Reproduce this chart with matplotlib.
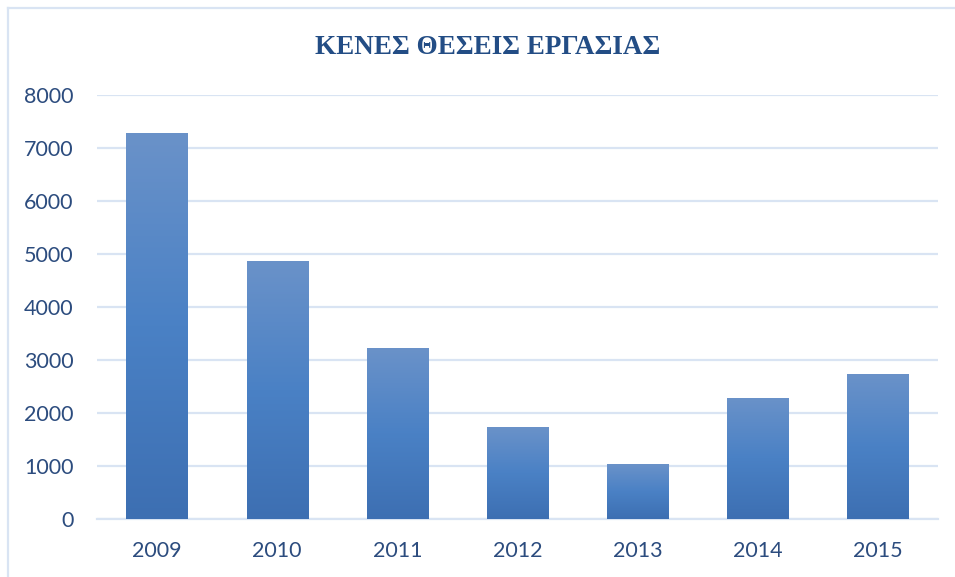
import matplotlib
matplotlib.use("Agg")
import matplotlib.pyplot as plt
import numpy as np
from matplotlib.colors import LinearSegmentedColormap
from matplotlib.lines import Line2D

years = ["2009", "2010", "2011", "2012", "2013", "2014", "2015"]
values = [7280, 4860, 3220, 1730, 1030, 2290, 2730]
yticks = [0, 1000, 2000, 3000, 4000, 5000, 6000, 7000, 8000]
title = "ΚΕΝΕΣ ΘΕΣΕΙΣ ΕΡΓΑΣΙΑΣ"

text_color = "#2c4c7e"
grid_color = "#d9e4f3"

fig = plt.figure(figsize=(9.55, 5.77), dpi=100)
ax = fig.add_axes([97/955, 1-519/577, (938-97)/955, (519-95)/577])

cmap = LinearSegmentedColormap.from_list("bar", ["#3d6fb2", "#4a81c5", "#6a92c9"])
x = np.arange(len(years))
bars = ax.bar(x, values, width=0.51, color="none", edgecolor="none", zorder=3)
grad = np.linspace(0, 1, 256).reshape(-1, 1)
for b in bars:
    x0, y0 = b.get_x(), b.get_y()
    w, h = b.get_width(), b.get_height()
    im = ax.imshow(grad, extent=[x0, x0 + w, y0, y0 + h], origin="lower",
                   cmap=cmap, aspect="auto", zorder=3, interpolation="bicubic")
    im.set_clip_path(b)

ax.set_xlim(-0.5, len(years) - 0.5)
ax.set_ylim(0, 8000)
ax.set_yticks(yticks)
ax.set_yticklabels([str(v) for v in yticks])
ax.set_xticks(x)
ax.set_xticklabels(years)
ax.yaxis.grid(True, color=grid_color, linewidth=1.6, zorder=0)
ax.set_axisbelow(True)
for s in ["top", "right", "left"]:
    ax.spines[s].set_visible(False)
ax.spines["bottom"].set_color(grid_color)
ax.spines["bottom"].set_linewidth(1.6)
ax.tick_params(length=0, labelsize=15.5, labelcolor=text_color, pad=0)
ax.tick_params(axis="y", pad=17)
ax.tick_params(axis="x", pad=16)
for lab in ax.get_xticklabels() + ax.get_yticklabels():
    lab.set_family("Lato")

fig.text(488/955, 1-47/577, title, ha="center", va="center", fontsize=19.5,
         fontweight="bold", color="#234d85", family=["Liberation Serif", "DejaVu Serif"])

# chart border (left and top)
fig.add_artist(Line2D([8/955, 8/955], [0, 1-8/577], transform=fig.transFigure,
                      color=grid_color, linewidth=1.6))
fig.add_artist(Line2D([8/955, 1], [1-8/577, 1-8/577], transform=fig.transFigure,
                      color=grid_color, linewidth=1.6))

fig.savefig("out.png", dpi=100)
